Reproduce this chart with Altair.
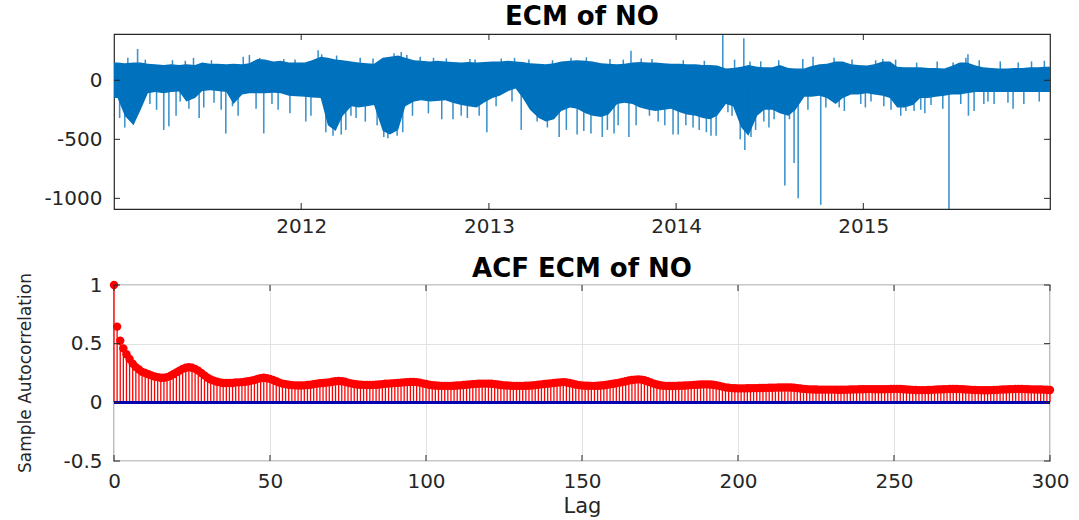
import altair as alt
import pandas as pd

# ---------------- ECM series (2011-2015), drawn as a dense band plus spikes ----------------
# Upper / lower edge of the dense part of the series, one value per half month
ecm_upper = [
    150, 145, 150, 150, 140, 135, 130, 135, 130, 135, 130, 150, 140, 140, 135, 140, 135, 145, 180, 175, 160, 165, 150, 150,
    150, 170, 200, 190, 175, 170, 160, 150, 145, 140, 190, 200, 210, 190, 170, 165, 160, 165, 160, 155, 150, 155, 150, 155,
    160, 160, 165, 160, 155, 145, 140, 135, 145, 160, 165, 170, 165, 160, 145, 140, 135, 140, 150, 155, 150, 150, 145, 140,
    140, 135, 135, 130, 130, 125, 100, 105, 115, 130, 115, 110, 110, 130, 105, 100, 100, 120, 135, 140, 160, 160, 135, 130,
    125, 135, 160, 160, 115, 110, 110, 110, 105, 105, 100, 120, 150, 150, 125, 110, 105, 100, 100, 105, 105, 110, 110, 115,
]
ecm_lower = [
    -150, -300, -380, -250, -110, -100, -110, -100, -95, -180, -150, -90, -85, -90, -100, -200, -120, -110, -110, -110, -105, -110, -130, -135,
    -140, -145, -150, -380, -430, -300, -220, -230, -220, -210, -430, -460, -420, -220, -180, -170, -180, -175, -170, -190, -210, -220, -230, -190,
    -150, -130, -90, -70, -150, -250, -320, -350, -330, -260, -230, -240, -280, -300, -310, -290, -200, -190, -200, -230, -250, -260, -250, -240,
    -270, -290, -300, -320, -330, -300, -200, -220, -400, -470, -300, -250, -250, -280, -300, -250, -140, -140, -130, -150, -200, -150, -120, -120,
    -110, -120, -130, -150, -230, -230, -210, -150, -150, -140, -130, -120, -120, -110, -100, -100, -100, -100, -100, -100, -100, -100, -100, -100,
]

# Large isolated excursions
spike_dates = [
    "2011-01-12", "2011-01-22", "2011-02-16", "2011-04-08", "2011-04-18", "2011-05-02", "2011-05-27", "2011-06-16",
    "2011-07-29", "2011-08-07", "2011-08-31", "2011-10-20", "2011-11-17", "2012-01-10", "2012-02-03", "2012-02-18",
    "2012-03-03", "2012-03-19", "2012-04-07", "2012-04-17", "2012-06-10", "2012-06-18", "2012-06-30", "2012-07-06",
    "2012-07-14", "2012-07-17", "2012-10-23", "2012-11-08", "2012-12-13", "2012-12-28", "2013-03-05", "2013-05-18",
    "2013-06-22", "2013-07-19", "2013-08-10", "2013-09-02", "2013-10-01", "2013-10-05", "2013-11-27", "2013-12-26",
    "2014-01-05", "2014-02-03", "2014-03-10", "2014-03-20", "2014-04-02", "2014-04-12", "2014-05-06", "2014-05-13",
    "2014-05-15", "2014-05-27", "2014-06-21", "2014-07-11", "2014-08-01", "2014-08-19", "2014-08-27", "2014-10-10",
    "2014-11-15", "2014-12-27", "2015-01-16", "2015-02-08", "2015-02-24", "2015-03-25", "2015-04-23", "2015-05-13",
    "2015-06-17", "2015-07-24", "2015-07-25", "2015-08-24", "2015-09-13", "2015-10-20",
]
spike_values = [
    -320, -400, 265, -420, -390, -300, -240, -320,
    -250, -450, -300, -450, -250, -350, 255, -440,
    -470, -460, -300, -320, -480, -490, 230, -470,
    240, -440, -330, -300, -300, -440, -420, -480,
    -460, -450, -480, -450, -480, 250, -350, -460,
    -460, -400, -470, -470, 385, -270, -500, 357,
    -590, -480, -350, -330, -890, -700, -1000, -1055,
    -230, -200, -180, 180, -250, -260, -250, -210,
    -1090, 220, -300, -200, -200, -240,
]

# Smaller excursions along the edges of the dense band
minor_dates = [
    "2011-01-28", "2011-02-05", "2011-03-03", "2011-03-12", "2011-03-25", "2011-04-25", "2011-05-10", "2011-05-20",
    "2011-06-05", "2011-06-25", "2011-07-10", "2011-07-15", "2011-08-20", "2011-09-10", "2011-09-22", "2011-10-05",
    "2011-10-12", "2011-11-05", "2011-11-28", "2011-12-10", "2011-12-20",
    "2012-01-20", "2012-02-10", "2012-03-10", "2012-03-28", "2012-04-25", "2012-05-05", "2012-05-20", "2012-05-28",
    "2012-06-25", "2012-07-25", "2012-08-05", "2012-08-20", "2012-09-05", "2012-09-15", "2012-10-01", "2012-10-10",
    "2012-11-20", "2012-11-25", "2012-12-05",
    "2013-01-15", "2013-01-25", "2013-02-15", "2013-02-20", "2013-03-20", "2013-04-05", "2013-04-25", "2013-05-05",
    "2013-06-01", "2013-06-10", "2013-07-05", "2013-07-10", "2013-08-20", "2013-08-25", "2013-09-10", "2013-09-20",
    "2013-10-15", "2013-10-25", "2013-11-10", "2013-11-15", "2013-12-10",
    "2014-01-15", "2014-01-20", "2014-02-15", "2014-02-25", "2014-03-01", "2014-04-20", "2014-04-25", "2014-05-25",
    "2014-06-05", "2014-06-15", "2014-07-01", "2014-07-20", "2014-08-10", "2014-09-05", "2014-09-15", "2014-09-25",
    "2014-10-20", "2014-11-05", "2014-11-25", "2014-12-10",
    "2015-01-05", "2015-01-25", "2015-02-10", "2015-03-05", "2015-03-15", "2015-04-10", "2015-04-15", "2015-05-01",
    "2015-05-25", "2015-06-05", "2015-06-25", "2015-07-10", "2015-07-20", "2015-08-05", "2015-08-15", "2015-09-01",
    "2015-09-25", "2015-10-10", "2015-10-30", "2015-11-10", "2015-11-25", "2015-12-10", "2015-12-20",
]
minor_values = [
    190, -330, 175, -200, -250, 170, -180, 165,
    190, -230, 170, -190, -220, 200, 215, -240,
    190, -200, 180, -280, 175,
    -300, 220, 210, -420, 190, -350, 185, -380,
    -430, 215, -300, 200, -280, 190, -330, 185,
    -320, 180, 175,
    -220, 185, -180, 190, 175, -350, -400, 170,
    -420, 190, -430, 195, -420, 180, -380, 175,
    -380, 185, -300, 180, -380,
    170, -380, -420, 165, -440, -300, 175, 160,
    -420, 160, -400, 170, -330, 180, -250, 200,
    -230, 190, -260, 175,
    -230, 170, -220, 175, -300, -260, 150, -280,
    160, -240, 150, -200, 190, -260, 170, -180,
    160, -190, 150, -200, 160, -180, 165,
]

year_ticks = [2012, 2013, 2014, 2015]
ecm_ticks = [-1000, -500, 0]

# ---------------- Sample autocorrelation, lags 0..300 ----------------
acf = [
    1.0, 0.645, 0.525, 0.46, 0.41, 0.37, 0.33, 0.30, 0.28, 0.26, 0.25, 0.24, 0.23,
    0.22, 0.215, 0.21, 0.21, 0.215, 0.225, 0.24, 0.255, 0.27, 0.285, 0.295, 0.30,
    0.295, 0.285, 0.27, 0.25, 0.23, 0.21, 0.195, 0.185, 0.175, 0.17, 0.165, 0.165,
    0.165, 0.165, 0.17, 0.17, 0.172, 0.175, 0.18, 0.185, 0.19, 0.20, 0.205, 0.21,
    0.205, 0.20, 0.19, 0.18, 0.168, 0.16, 0.155, 0.15, 0.147, 0.145, 0.144, 0.144,
    0.145, 0.148, 0.15, 0.155, 0.16, 0.163, 0.165, 0.168, 0.17, 0.175, 0.18, 0.182,
    0.18, 0.175, 0.168, 0.162, 0.156, 0.152, 0.15, 0.149, 0.148, 0.148, 0.149, 0.15,
    0.152, 0.155, 0.158, 0.16, 0.162, 0.164, 0.166, 0.168, 0.17, 0.172, 0.173, 0.174,
    0.172, 0.168, 0.162, 0.156, 0.15, 0.146, 0.143, 0.141, 0.14, 0.14, 0.14, 0.14,
    0.141, 0.143, 0.145, 0.148, 0.15, 0.153, 0.155, 0.157, 0.159, 0.16, 0.16, 0.16,
    0.158, 0.155, 0.152, 0.148, 0.145, 0.143, 0.141, 0.14, 0.14, 0.14, 0.14, 0.141,
    0.142, 0.144, 0.147, 0.15, 0.153, 0.156, 0.159, 0.162, 0.165, 0.168, 0.17, 0.172,
    0.17, 0.165, 0.158, 0.152, 0.147, 0.144, 0.142, 0.141, 0.14, 0.14, 0.141, 0.143,
    0.146, 0.15, 0.154, 0.158, 0.163, 0.168, 0.174, 0.18, 0.186, 0.19, 0.194, 0.196,
    0.194, 0.188, 0.18, 0.17, 0.16, 0.152, 0.146, 0.142, 0.14, 0.139, 0.139, 0.14,
    0.141, 0.142, 0.143, 0.145, 0.147, 0.149, 0.15, 0.152, 0.153, 0.153, 0.152, 0.15,
    0.146, 0.14, 0.134, 0.128, 0.124, 0.121, 0.12, 0.119, 0.119, 0.119, 0.12, 0.12,
    0.121, 0.121, 0.122, 0.122, 0.123, 0.124, 0.124, 0.125, 0.126, 0.126, 0.127, 0.127,
    0.126, 0.124, 0.121, 0.118, 0.115, 0.113, 0.111, 0.11, 0.109, 0.108, 0.108, 0.108,
    0.108, 0.108, 0.108, 0.107, 0.107, 0.107, 0.108, 0.109, 0.11, 0.111, 0.112, 0.112,
    0.113, 0.113, 0.113, 0.112, 0.112, 0.112, 0.112, 0.113, 0.114, 0.115, 0.115, 0.114,
    0.112, 0.11, 0.108, 0.106, 0.105, 0.104, 0.104, 0.104, 0.105, 0.106, 0.108, 0.11,
    0.111, 0.112, 0.113, 0.114, 0.114, 0.114, 0.113, 0.112, 0.11, 0.108, 0.106, 0.105,
    0.104, 0.103, 0.103, 0.103, 0.104, 0.105, 0.106, 0.108, 0.11, 0.111, 0.112, 0.113,
    0.114, 0.114, 0.114, 0.113, 0.112, 0.111, 0.11, 0.109, 0.109, 0.108, 0.107, 0.105,
]
lag_ticks = [0, 50, 100, 150, 200, 250, 300]
acf_ticks = [-0.5, 0, 0.5, 1]

# ---------------- styling ----------------
FONT = "DejaVu Sans"
INK = "#262626"
BLUE = "#0072BD"
W, H_TOP, H_BOT = 936, 175, 176
TICK = 6
ECM_LABEL = "replace(format(datum.value, 'd'), '\u2212', '-')"
ACF_LABEL = "replace(format(datum.value, '~g'), '\u2212', '-')"

# ---------------- tables ----------------
centers = list(pd.date_range("2011-01-01", periods=len(ecm_upper), freq="SMS") + pd.Timedelta(days=7))
band = pd.DataFrame({
    "t": [pd.Timestamp("2011-01-01")] + centers + [pd.Timestamp("2015-12-31")],
    "hi": [ecm_upper[0]] + ecm_upper + [ecm_upper[-1]],
    "lo": [ecm_lower[0]] + ecm_lower + [ecm_lower[-1]],
})
spikes = pd.DataFrame({"t": pd.to_datetime(spike_dates), "v": spike_values, "z": 0})
minor = pd.DataFrame({"t": pd.to_datetime(minor_dates), "v": minor_values, "z": 0})
year_df = pd.DataFrame({"t": [pd.Timestamp(f"{y}-01-01") for y in year_ticks]})
ecm_tick_df = pd.DataFrame({"v": ecm_ticks})
acf_df = pd.DataFrame({"lag": list(range(len(acf))), "r": acf, "z": 0})
lag_df = pd.DataFrame({"lag": lag_ticks})
acf_tick_df = pd.DataFrame({"r": acf_ticks})

# ---------------- top panel: ECM of NO ----------------
t_scale = alt.Scale(domain=[alt.DateTime(year=2011, month=1, date=1), alt.DateTime(year=2015, month=12, date=31)])
v_scale = alt.Scale(domain=[-1090, 392], nice=False, zero=False)

x_top = alt.X("t:T", scale=t_scale, title=None,
              axis=alt.Axis(values=[alt.DateTime(year=y, month=1, date=1) for y in year_ticks],
                            format="%Y", grid=False, ticks=False, domain=False, labelPadding=7,
                            labelFlush=False))
y_top = alt.Y("lo:Q", scale=v_scale, title=None,
              axis=alt.Axis(values=ecm_ticks, grid=False, ticks=False, domain=False,
                            labelPadding=12, labelExpr=ECM_LABEL))

band_layer = alt.Chart(band).mark_area(color=BLUE, clip=True, interpolate="linear").encode(
    x=x_top, y=y_top, y2="hi:Q")
minor_layer = alt.Chart(minor).mark_rule(color=BLUE, strokeWidth=1.5, opacity=0.8, clip=True).encode(
    x="t:T", y="v:Q", y2="z:Q")
spike_layer = alt.Chart(spikes).mark_rule(color=BLUE, strokeWidth=1.6, opacity=0.75, clip=True).encode(
    x="t:T", y="v:Q", y2="z:Q")

top_ticks = [
    alt.Chart(ecm_tick_df).mark_rule(color=INK).encode(y="v:Q", x=alt.value(0), x2=alt.value(TICK)),
    alt.Chart(ecm_tick_df).mark_rule(color=INK).encode(y="v:Q", x=alt.value(W), x2=alt.value(W - TICK)),
    alt.Chart(year_df).mark_rule(color=INK).encode(x="t:T", y=alt.value(0), y2=alt.value(TICK)),
    alt.Chart(year_df).mark_rule(color=INK).encode(x="t:T", y=alt.value(H_TOP), y2=alt.value(H_TOP - TICK)),
]

top = alt.layer(band_layer, minor_layer, spike_layer, *top_ticks).properties(
    width=W, height=H_TOP,
    title=alt.TitleParams("ECM of NO", font=FONT, fontSize=26, fontWeight="bold", color="black", offset=4),
)

# ---------------- bottom panel: ACF ----------------
lag_scale = alt.Scale(domain=[0, 300], nice=False, zero=False)
r_scale = alt.Scale(domain=[-0.5, 1], nice=False, zero=False)

x_bot = alt.X("lag:Q", scale=lag_scale, title="Lag",
              axis=alt.Axis(values=lag_ticks, grid=True, gridColor="#e2e2e2", gridWidth=1,
                            ticks=False, domain=False, labelPadding=10, labelFlush=False,
                            titleFontSize=21, titlePadding=4))
y_bot = alt.Y("r:Q", scale=r_scale, title=None,
              axis=alt.Axis(values=acf_ticks, grid=True, gridColor="#e2e2e2", gridWidth=1,
                            ticks=False, domain=False, labelPadding=12, labelExpr=ACF_LABEL))

stems = alt.Chart(acf_df).mark_rule(color="#ff0000", strokeWidth=1.3).encode(x=x_bot, y=y_bot, y2="z:Q")
dots = alt.Chart(acf_df).mark_circle(color="#ff0000", size=70, opacity=1).encode(x="lag:Q", y="r:Q")
baseline = alt.Chart(acf_df).mark_rule(color="#0000b0", strokeWidth=2.5).encode(y=alt.datum(0))
ylabel = alt.Chart(pd.DataFrame({"s": ["Sample Autocorrelation"]})).mark_text(
    font=FONT, fontSize=17, color=INK, angle=270, align="center", baseline="middle"
).encode(text="s:N", x=alt.value(-88), y=alt.value(H_BOT / 2))

bot_ticks = [
    alt.Chart(acf_tick_df).mark_rule(color=INK).encode(y="r:Q", x=alt.value(0), x2=alt.value(TICK)),
    alt.Chart(acf_tick_df).mark_rule(color=INK).encode(y="r:Q", x=alt.value(W), x2=alt.value(W - TICK)),
    alt.Chart(lag_df).mark_rule(color=INK).encode(x="lag:Q", y=alt.value(0), y2=alt.value(TICK)),
    alt.Chart(lag_df).mark_rule(color=INK).encode(x="lag:Q", y=alt.value(H_BOT), y2=alt.value(H_BOT - TICK)),
]

bottom = alt.layer(stems, dots, baseline, ylabel, *bot_ticks).properties(
    width=W, height=H_BOT,
    title=alt.TitleParams("ACF ECM of NO", font=FONT, fontSize=26, fontWeight="bold", color="black", offset=-9),
)

chart = alt.vconcat(top, bottom, spacing=18).properties(
    padding={"left": 16, "top": 2, "right": 0, "bottom": 0},
    background="white",
).configure_view(
    stroke=INK, strokeWidth=1.2,
).configure_axis(
    labelFont=FONT, labelFontSize=20, labelColor=INK,
    titleFont=FONT, titleFontWeight="normal", titleColor=INK,
)

chart.save("out.html", embed_options={"renderer": "svg", "actions": False})
